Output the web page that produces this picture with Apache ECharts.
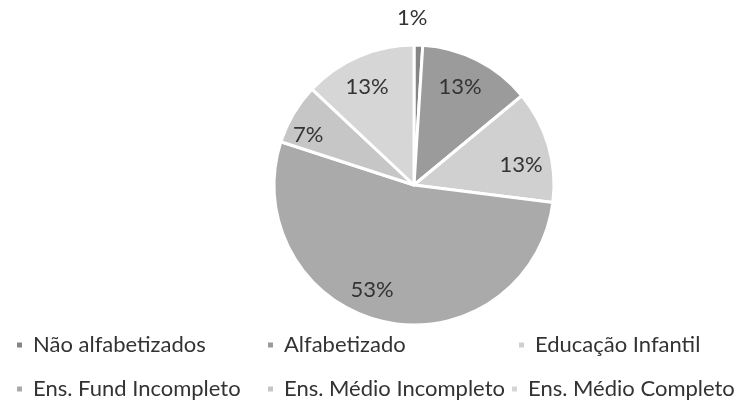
<!DOCTYPE html>
<html>
<head>
<meta charset="utf-8">
<script src="https://cdn.jsdelivr.net/npm/echarts@6/dist/echarts.min.js"></script>
<style>
  html, body { margin: 0; padding: 0; background: #fff; }
  #chart { width: 744px; height: 401px; }
</style>
</head>
<body>
<div id="chart"></div>
<script>
const categories = ['Não alfabetizados', 'Alfabetizado', 'Educação Infantil',
  'Ens. Fund Incompleto', 'Ens. Médio Incompleto', 'Ens. Médio Completo'];
const values = [1, 13, 13, 53, 7, 13];
const colors = ['#858585', '#9b9b9b', '#d0d0d0', '#aaaaaa', '#c6c6c6', '#d6d6d6'];

// Excel puts the percentages a bit off the mid radius, nudge them
const labelOffset = [[-4, -94], [13, -33], [37, 0], [-26, 34], [-43, -13], [-18, -31]];
// legend spots (x, y) laid out like the original 3x2 block
const legendPos = [[15, 334], [266, 334], [517, 334], [15, 378], [266, 378], [510, 378]];

const chart = echarts.init(document.getElementById('chart'));

const legends = categories.map((name, i) => ({
  data: [name],
  left: legendPos[i][0],
  top: legendPos[i][1],
  padding: 0,
  icon: 'rect',
  itemWidth: 7,
  itemHeight: 7,
  itemGap: 0,
  textStyle: { fontFamily: 'Lato', fontSize: 22, color: '#333', padding: [0, 0, 0, 5] }
}));

chart.setOption({
  animation: false,
  legend: legends,
  series: [{
    type: 'pie',
    center: [414, 185],
    radius: 140,
    startAngle: 90,
    clockwise: true,
    itemStyle: { borderColor: '#fff', borderWidth: 3 },
    label: {
      position: 'inside',
      formatter: '{d}%',
      fontFamily: 'Lato',
      fontSize: 22,
      color: '#333'
    },
    labelLine: { show: false },
    data: categories.map((name, i) => ({
      name: name,
      value: values[i],
      itemStyle: { color: colors[i] },
      label: { offset: labelOffset[i] }
    }))
  }]
});
</script>
</body>
</html>
